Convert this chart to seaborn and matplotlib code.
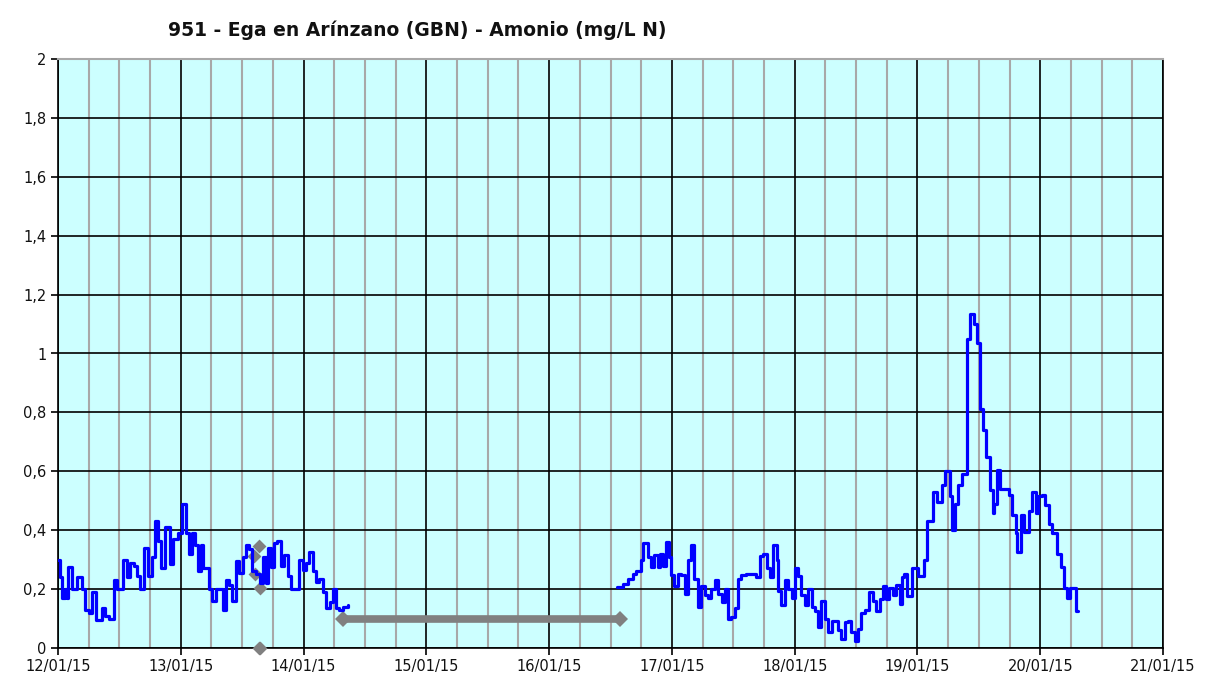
import numpy as np
import pandas as pd
import matplotlib
matplotlib.use('Agg')
import matplotlib.pyplot as plt
import matplotlib.dates as mdates
from matplotlib.ticker import FuncFormatter, MultipleLocator
import seaborn as sns

# Hours since 12/01/15 00:00 where the value changes (step data), and the values
seg1_hours = [0.0, 0.4, 0.8, 1.3, 1.7, 2.0, 2.7, 3.7, 4.6, 5.3, 6.0, 6.6, 7.4, 8.6, 9.2, 9.9,
              10.9, 11.5, 12.7, 13.4, 14.1, 14.8, 15.4, 16.0, 16.8, 17.6, 18.3, 19.0, 19.6,
              20.2, 20.9, 21.9, 22.5, 23.5, 24.3, 25.1, 25.6, 26.1, 26.8, 27.4, 28.0, 28.4,
              29.5, 30.2, 30.85, 32.2, 32.8, 33.5, 34.1, 34.8, 35.4, 36.1, 36.7, 37.4, 38.0,
              38.7, 39.4, 40.0, 40.6, 41.0, 41.6, 42.3, 42.9, 43.6, 44.2, 44.9, 45.6, 47.2,
              47.8, 48.5, 49.15, 49.8, 50.5, 51.1, 51.8, 52.4, 53.1, 53.7, 54.4, 55.0, 55.7,
              56.6]
seg1_values = [0.30, 0.24, 0.17, 0.20, 0.17, 0.275, 0.20, 0.24, 0.20, 0.13, 0.12, 0.19, 0.095,
               0.135, 0.11, 0.10, 0.23, 0.20, 0.30, 0.24, 0.29, 0.28, 0.245, 0.20, 0.34, 0.245,
               0.31, 0.43, 0.365, 0.27, 0.41, 0.285, 0.37, 0.39, 0.49, 0.39, 0.32, 0.39, 0.35,
               0.26, 0.35, 0.27, 0.20, 0.16, 0.20, 0.13, 0.23, 0.215, 0.16, 0.295, 0.255, 0.31,
               0.35, 0.335, 0.26, 0.25, 0.22, 0.31, 0.22, 0.34, 0.275, 0.355, 0.365, 0.28,
               0.315, 0.245, 0.20, 0.30, 0.265, 0.29, 0.325, 0.26, 0.225, 0.235, 0.19, 0.135,
               0.155, 0.20, 0.135, 0.13, 0.14, 0.145]

seg2_hours = [109.2, 110.4, 111.4, 112.4, 113.0, 114.0, 114.3, 115.3, 116.0, 116.6, 117.3,
              117.7, 118.2, 118.9, 119.5, 119.9, 120.5, 121.2, 121.8, 122.5, 123.1, 123.8,
              124.4, 125.1, 125.7, 126.4, 127.0, 127.7, 128.4, 129.0, 129.7, 130.3, 131.0,
              131.6, 132.3, 132.9, 133.6, 134.5, 136.5, 137.2, 137.9, 138.5, 139.2, 139.8,
              140.5, 140.8, 141.4, 142.1, 142.7, 143.4, 144.0, 144.7, 145.3, 146.0, 146.6,
              147.3, 147.9, 148.6, 149.2, 149.9, 150.5, 151.2, 152.5, 153.1, 153.8, 154.4,
              155.1, 155.7, 156.4, 157.0, 157.7, 158.6, 159.3, 159.9, 160.6, 161.2, 161.9,
              162.5, 163.2, 163.8, 164.5, 165.0, 165.3, 165.9, 166.9, 168.2, 169.2, 169.8,
              171.1, 171.8, 172.8, 173.4, 174.4, 174.7, 175.4, 176.0, 176.7, 177.7, 178.3,
              179.0, 179.6, 180.3, 180.8, 181.4, 182.1, 182.7, 183.0, 183.6, 184.2, 185.9,
              186.5, 187.2, 187.5, 188.2, 188.8, 189.8, 190.4, 191.1, 191.6, 192.4, 193.0,
              193.7, 194.3, 195.3, 196.0, 196.6, 197.3, 197.9, 198.9, 199.3]
seg2_values = [0.207, 0.218, 0.235, 0.25, 0.26, 0.30, 0.357, 0.31, 0.275, 0.315, 0.275, 0.32,
               0.28, 0.36, 0.31, 0.247, 0.21, 0.25, 0.247, 0.185, 0.30, 0.35, 0.235, 0.14,
               0.21, 0.18, 0.17, 0.20, 0.23, 0.185, 0.155, 0.20, 0.10, 0.105, 0.135, 0.235,
               0.247, 0.25, 0.24, 0.313, 0.32, 0.27, 0.24, 0.35, 0.30, 0.195, 0.145, 0.23,
               0.20, 0.17, 0.27, 0.245, 0.18, 0.145, 0.20, 0.14, 0.125, 0.07, 0.16, 0.10,
               0.053, 0.093, 0.06, 0.03, 0.087, 0.093, 0.053, 0.025, 0.065, 0.12, 0.13, 0.19,
               0.16, 0.125, 0.165, 0.21, 0.165, 0.205, 0.18, 0.215, 0.15, 0.24, 0.25, 0.175,
               0.27, 0.245, 0.30, 0.43, 0.53, 0.495, 0.555, 0.60, 0.515, 0.40, 0.49, 0.555,
               0.59, 1.05, 1.135, 1.10, 1.035, 0.81, 0.74, 0.65, 0.535, 0.46, 0.49, 0.605,
               0.54, 0.52, 0.45, 0.39, 0.325, 0.45, 0.395, 0.465, 0.53, 0.46, 0.515, 0.52,
               0.485, 0.42, 0.39, 0.32, 0.275, 0.205, 0.17, 0.205, 0.125, 0.125]

# gray series (no data bar and loose points)
gap_hours = [55.7, 109.8]
gap_values = [0.1, 0.1]
dot_hours = [39.2, 38.4, 38.5, 39.4, 39.3, 39.5]
dot_values = [0.345, 0.313, 0.252, 0.205, 0.0, 0.0]

base = pd.Timestamp('2015-01-12')
def to_df(h, v):
    return pd.DataFrame({'t': base + pd.to_timedelta(h, unit='h'), 'v': v})

sns.set_style('white')
fig = plt.figure(figsize=(12.09, 6.82), dpi=100)
ax = fig.add_axes([58 / 1209, 1 - 648 / 682, (1163 - 58) / 1209, (648 - 59) / 682])
ax.set_facecolor('#CCFFFF')

sns.lineplot(data=to_df(seg1_hours, seg1_values), x='t', y='v', ax=ax, color='#0000FF',
             linewidth=2.3, drawstyle='steps-post', zorder=4)
sns.lineplot(data=to_df(seg2_hours, seg2_values), x='t', y='v', ax=ax, color='#0000FF',
             linewidth=2.3, drawstyle='steps-post', zorder=4)
sns.lineplot(data=to_df(gap_hours, gap_values), x='t', y='v', ax=ax, color='#808080',
             linewidth=5.5, marker='D', markersize=8, markeredgewidth=0, zorder=3)
sns.scatterplot(data=to_df(dot_hours, dot_values), x='t', y='v', ax=ax, color='#808080',
                marker='D', s=50, linewidth=0, zorder=3, clip_on=False)

ax.set_xlim(base, base + pd.Timedelta(days=9))
ax.set_ylim(0, 2)
ax.xaxis.set_major_locator(mdates.DayLocator())
ax.xaxis.set_minor_locator(mdates.HourLocator(byhour=[6, 12, 18]))
ax.xaxis.set_major_formatter(mdates.DateFormatter('%d/%m/%y'))
ax.yaxis.set_major_locator(MultipleLocator(0.2))
ax.yaxis.set_major_formatter(FuncFormatter(lambda v, p: ('%g' % round(v, 1)).replace('.', ',')))

ax.grid(which='major', axis='both', color='black', linewidth=1.2, zorder=1)
ax.grid(which='minor', axis='x', color='#A8A8A8', linewidth=1.5, zorder=1)
ax.set_axisbelow(True)

for s in ['left', 'bottom']:
    ax.spines[s].set_color('black')
    ax.spines[s].set_linewidth(1.2)
ax.spines['top'].set_color('#A8A8A8')
ax.spines['top'].set_linewidth(1.5)
ax.spines['right'].set_color('black')
ax.spines['right'].set_linewidth(1.2)

ax.tick_params(axis='both', which='major', direction='out', length=5, width=1.2,
               color='black', labelsize=10.5, labelcolor='#111111', left=True, bottom=True)
ax.tick_params(axis='x', which='minor', length=0)
ax.tick_params(axis='x', pad=3)
ax.set_xlabel('')
ax.set_ylabel('')

fig.text(168 / 1209, 1 - 30 / 682, '951 - Ega en Arínzano (GBN) - Amonio (mg/L N)',
         fontsize=13.5, fontweight='bold', color='#111111', ha='left', va='center')

fig.savefig('out.png', dpi=100)
